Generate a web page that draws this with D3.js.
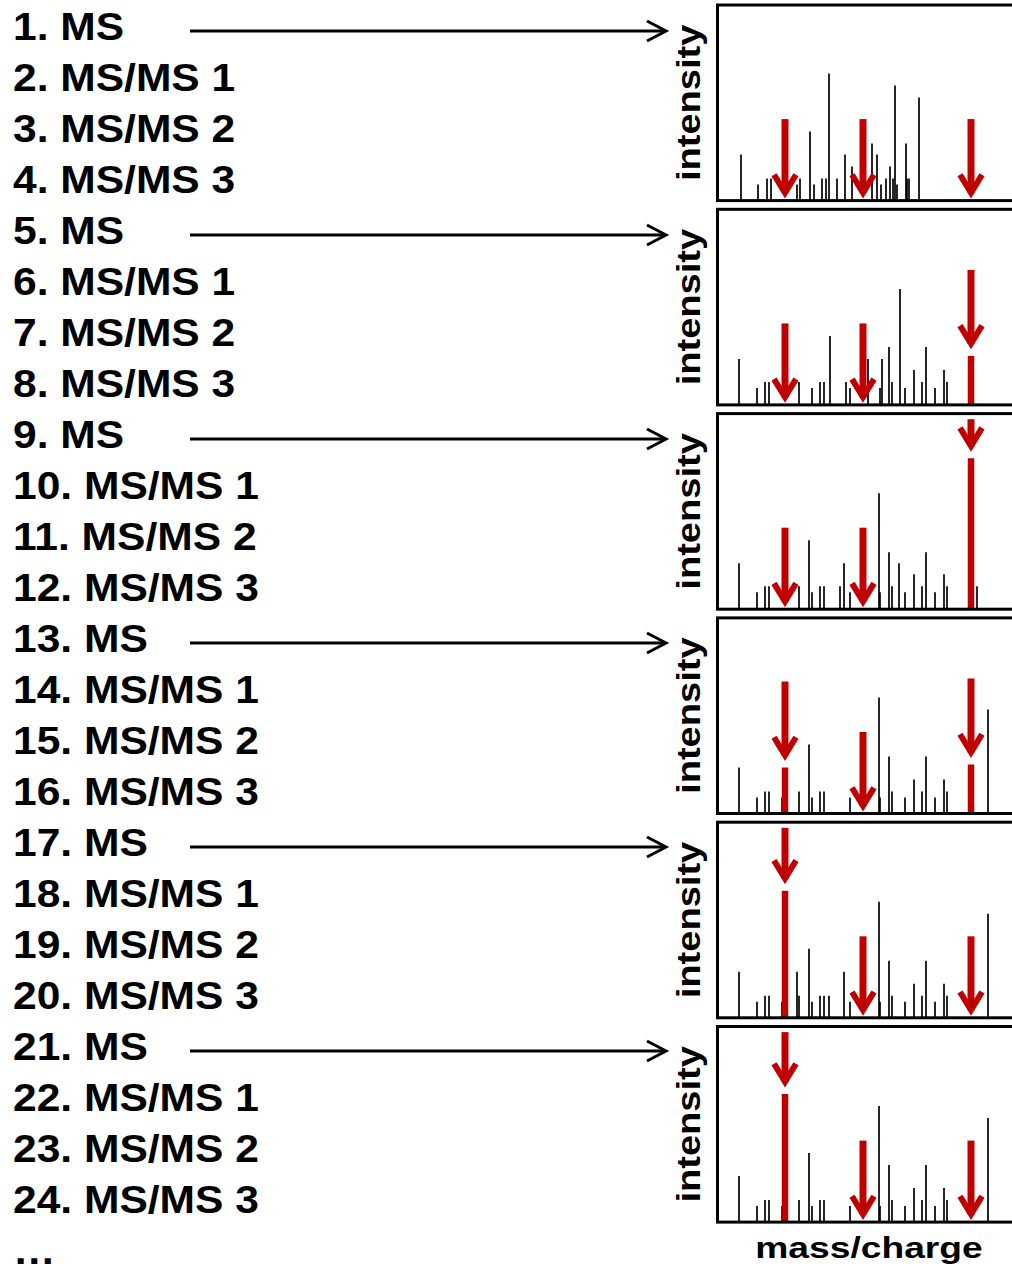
<!DOCTYPE html>
<html>
<head>
<meta charset="utf-8">
<script src="https://d3js.org/d3.v7.min.js"></script>
<style>
  body { margin: 0; background: #ffffff; }
  text { font-family: "Liberation Sans", Arial, sans-serif; font-weight: bold; fill: #000; }
</style>
</head>
<body>
<div id="chart"></div>
<script>

// scan list on the left
var scanLabels = [
  "1. MS", "2. MS/MS 1", "3. MS/MS 2", "4. MS/MS 3",
  "5. MS", "6. MS/MS 1", "7. MS/MS 2", "8. MS/MS 3",
  "9. MS", "10. MS/MS 1", "11. MS/MS 2", "12. MS/MS 3",
  "13. MS", "14. MS/MS 1", "15. MS/MS 2", "16. MS/MS 3",
  "17. MS", "18. MS/MS 1", "19. MS/MS 2", "20. MS/MS 3",
  "21. MS", "22. MS/MS 1", "23. MS/MS 2", "24. MS/MS 3",
  "\u2026"
];
// rows that are MS survey scans (each gets an arrow to a spectrum)
var msRows = [0, 4, 8, 12, 16, 20];

// spectra: [m/z, intensity] (arbitrary units)
var spec1 = [[23,46],[40,16],[49,22],[53,22],[79,16],[82,22],[92,69],[96,16],[104,22],[108,22],[111,127],[119,22],[127,46],[134,34],[154,57],[159,46],[163,16],[168,22],[172,34],[175,22],[177,115],[179,16],[188,57],[189,22],[191,22],[201,103]];
var spec2 = [[21,46],[39,17],[47,23],[51,23],[81,23],[94,17],[102,23],[106,23],[112,69],[128,23],[132,17],[150,46],[162,17],[164,46],[171,58],[174,23],[182,116],[187,17],[196,35],[204,23],[208,58],[217,17],[226,35],[229,23]];
var spec3 = [[21,46],[39,17],[47,23],[51,23],[81,23],[91,69],[94,17],[102,23],[106,23],[122,23],[126,46],[132,17],[161,116],[162,17],[171,57],[174,23],[181,46],[187,17],[196,35],[204,23],[208,57],[217,17],[226,35],[229,23],[259,23]];
var spec4 = [[21,46],[39,16],[47,22],[51,22],[64,16],[81,22],[91,69],[94,16],[102,22],[106,22],[132,16],[161,116],[162,16],[171,57],[174,22],[187,16],[196,34],[204,22],[208,57],[217,16],[226,34],[229,22],[270,104]];
var spec5 = [[21,46],[39,16],[47,22],[51,22],[64,16],[79,46],[81,22],[91,69],[94,16],[102,22],[106,22],[111,22],[126,46],[132,16],[161,116],[162,16],[171,57],[174,22],[187,16],[196,34],[204,22],[208,57],[217,16],[226,34],[229,22],[270,104]];
var spec6 = [[21,46],[39,16],[47,22],[51,22],[64,16],[81,22],[91,69],[94,16],[102,22],[106,22],[132,16],[161,116],[162,16],[171,57],[174,22],[187,16],[196,34],[204,22],[208,57],[217,16],[226,34],[229,22],[270,104]];

// selected precursor peaks (red) in each spectrum
var prec1 = [];
var prec2 = [[253,49]];
var prec3 = [[253,151]];
var prec4 = [[67,46],[253,49]];
var prec5 = [[67,127]];
var prec6 = [[67,128]];

// m/z of the three targeted precursors
var targets = [67, 145, 253];

var spectra = [spec1, spec2, spec3, spec4, spec5, spec6];
var precursors = [prec1, prec2, prec3, prec4, prec5, prec6];

var width = 1012, height = 1266;
var red = "#c00000";

var svg = d3.select("#chart")
  .append("svg")
    .attr("width", width)
    .attr("height", height);

// ---- scan list ----
var rowY = d3.scaleLinear().domain([0, 1]).range([40, 91]);

svg.selectAll("text.scan")
  .data(scanLabels)
  .enter()
  .append("text")
    .attr("class", "scan")
    .attr("transform", function(d, i) { return "translate(13," + rowY(i) + ") scale(1.12,1)"; })
    .style("font-size", "38px")
    .text(function(d) { return d; });

// arrows from MS rows to spectra
var arrows = svg.selectAll("g.msarrow")
  .data(msRows)
  .enter()
  .append("g")
    .attr("class", "msarrow")
    .attr("transform", function(d) { return "translate(0," + (rowY(d) - 9) + ")"; });

arrows.append("line")
  .attr("x1", 190).attr("x2", 665)
  .attr("y1", 0).attr("y2", 0)
  .attr("stroke", "black")
  .attr("stroke-width", 3);

arrows.append("path")
  .attr("d", "M647,-10 L666,0 L647,10")
  .attr("fill", "none")
  .attr("stroke", "black")
  .attr("stroke-width", 3);

// ---- spectra panels ----
var panelTop = d3.scaleLinear().domain([0, 1]).range([5, 209.3]);
var panelH = 195.6;
var x = d3.scaleLinear().domain([0, 300]).range([718, 1018]);

spectra.forEach(function(peaks, p) {
  var top = panelTop(p), bottom = top + panelH;
  var y = d3.scaleLinear().domain([0, 196]).range([bottom, bottom - 196]);

  var g = svg.append("g");

  g.selectAll("line.peak")
    .data(peaks)
    .enter()
    .append("line")
      .attr("class", "peak")
      .attr("x1", function(d) { return x(d[0]); })
      .attr("x2", function(d) { return x(d[0]); })
      .attr("y1", y(0))
      .attr("y2", function(d) { return y(d[1]); })
      .attr("stroke", "black")
      .attr("stroke-width", 1.7);

  g.selectAll("line.prec")
    .data(precursors[p])
    .enter()
    .append("line")
      .attr("class", "prec")
      .attr("x1", function(d) { return x(d[0]); })
      .attr("x2", function(d) { return x(d[0]); })
      .attr("y1", y(0))
      .attr("y2", function(d) { return y(d[1]); })
      .attr("stroke", red)
      .attr("stroke-width", 6.5);

  // frame
  g.append("rect")
    .attr("x", 717.5)
    .attr("y", top)
    .attr("width", 320)
    .attr("height", panelH)
    .attr("fill", "none")
    .attr("stroke", "black")
    .attr("stroke-width", 3);

  // red target arrows
  var arr = targets.map(function(t) {
    var hit = precursors[p].filter(function(d) { return d[0] === t; });
    var tip = hit.length ? hit[0][1] + 6 : 1.5;
    return { mz: t, tip: tip, top: Math.min(tip + 80, 190) };
  });

  var ag = g.selectAll("g.target")
    .data(arr)
    .enter()
    .append("g")
      .attr("class", "target");

  ag.append("line")
    .attr("x1", function(d) { return x(d.mz); })
    .attr("x2", function(d) { return x(d.mz); })
    .attr("y1", function(d) { return y(d.top); })
    .attr("y2", function(d) { return y(d.tip) - 6; })
    .attr("stroke", red)
    .attr("stroke-width", 7);

  ag.append("path")
    .attr("d", function(d) {
      var cx = x(d.mz), ty = y(d.tip) - 6.3;
      return "M" + (cx - 11) + "," + (ty - 18) + " L" + cx + "," + ty + " L" + (cx + 11) + "," + (ty - 18);
    })
    .attr("fill", "none")
    .attr("stroke", red)
    .attr("stroke-width", 6);

  // y axis title
  g.append("text")
    .attr("transform", "translate(699.5," + (top + panelH / 2) + ") rotate(-90) scale(1.12,1)")
    .attr("text-anchor", "middle")
    .style("font-size", "34px")
    .text("intensity");
});

// x axis title
svg.append("text")
  .attr("transform", "translate(869,1258) scale(1.24,1)")
  .attr("text-anchor", "middle")
  .style("font-size", "30px")
  .text("mass/charge");

</script>
</body>
</html>
